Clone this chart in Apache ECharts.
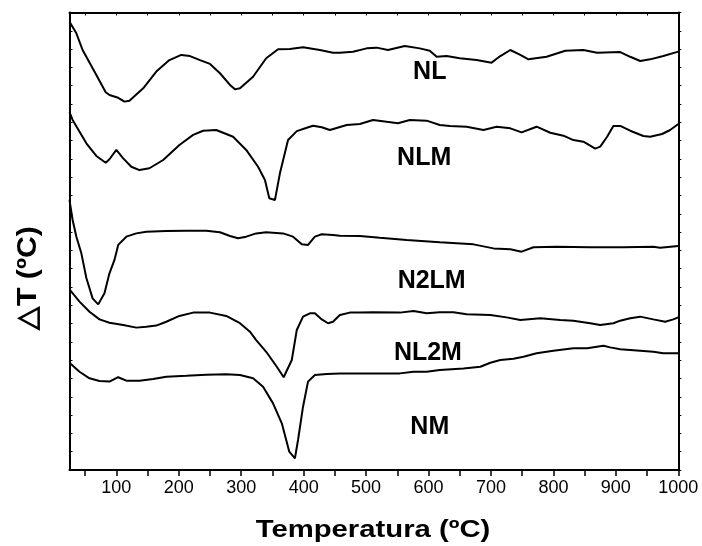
<!DOCTYPE html>
<html>
<head>
<meta charset="utf-8">
<script src="https://cdn.jsdelivr.net/npm/echarts@6/dist/echarts.min.js"></script>
<style>
  html, body { margin: 0; padding: 0; background: #fff; }
  #chart { width: 702px; height: 546px; }
</style>
</head>
<body>
<div id="chart"></div>
<script>
// DTA curves, [temperature °C, ΔT (arbitrary units, curves offset vertically)]
const NL = [[25,24.50],[36,23.86],[46,22.95],[68,21.58],[83,20.64],[89,20.49],[103,20.34],[113,20.13],[121,20.18],[143,20.86],[164,21.77],[185,22.40],[204,22.68],[218,22.62],[234,22.40],[250,22.19],[266,21.68],[282,21.04],[290,20.80],[298,20.86],[319,21.49],[340,22.50],[359,22.99],[378,23.01],[399,23.10],[426,22.95],[447,22.80],[458,22.80],[479,22.86],[501,23.04],[517,23.08],[535,22.95],[562,23.17],[586,23.04],[602,22.91],[613,22.58],[629,22.62],[650,22.50],[677,22.40],[701,22.26],[715,22.62],[731,22.95],[747,22.68],[760,22.44],[789,22.58],[819,22.91],[848,22.95],[870,22.80],[907,22.84],[923,22.58],[939,22.35],[955,22.44],[976,22.62],[1000,22.86]];

const NLM = [[25,19.55],[30,19.13],[52,17.85],[68,17.16],[83,16.79],[89,16.98],[100,17.49],[111,17.03],[124,16.57],[137,16.39],[153,16.49],[175,16.94],[201,17.76],[223,18.31],[239,18.54],[260,18.58],[287,18.21],[308,17.49],[327,16.57],[338,15.85],[345,14.85],[354,14.75],[362,16.21],[375,18.03],[389,18.52],[405,18.70],[415,18.81],[429,18.73],[442,18.58],[469,18.85],[490,18.91],[511,19.13],[533,19.03],[551,18.95],[570,19.13],[597,19.09],[618,18.85],[634,18.80],[661,18.76],[688,18.58],[709,18.76],[731,18.67],[749,18.45],[773,18.76],[795,18.43],[816,18.27],[832,18.03],[848,17.94],[867,17.56],[875,17.67],[886,18.21],[896,18.80],[907,18.80],[923,18.54],[944,18.25],[955,18.21],[974,18.36],[987,18.58],[1000,18.91]];

const N2LM = [[25,14.75],[30,13.66],[36,12.75],[44,11.84],[52,10.49],[62,9.38],[71,9.05],[81,9.66],[89,10.75],[97,11.48],[103,12.30],[116,12.75],[132,12.93],[148,13.02],[180,13.06],[212,13.08],[244,13.08],[266,12.99],[282,12.79],[295,12.66],[308,12.75],[324,12.93],[340,12.99],[367,12.93],[383,12.75],[397,12.33],[407,12.30],[418,12.75],[429,12.88],[447,12.84],[458,12.80],[490,12.79],[522,12.69],[565,12.57],[618,12.44],[672,12.33],[704,12.11],[731,12.06],[749,11.93],[768,12.17],[805,12.20],[859,12.17],[912,12.17],[960,12.20],[971,12.15],[1000,12.24]];

const NL2M = [[25,9.87],[41,9.20],[57,8.65],[73,8.23],[89,8.05],[111,7.92],[132,7.78],[148,7.83],[164,7.89],[180,8.10],[201,8.42],[223,8.60],[250,8.60],[276,8.42],[298,8.02],[314,7.56],[324,7.10],[340,6.46],[357,5.64],[368,5.07],[381,6.01],[389,7.65],[399,8.38],[410,8.56],[418,8.56],[429,8.23],[439,8.02],[447,8.10],[458,8.47],[474,8.60],[490,8.60],[511,8.62],[554,8.60],[576,8.69],[597,8.56],[618,8.62],[640,8.62],[661,8.51],[699,8.47],[725,8.34],[747,8.20],[779,8.29],[811,8.20],[832,8.16],[859,8.02],[875,7.92],[896,8.02],[907,8.16],[923,8.29],[939,8.38],[960,8.23],[979,8.10],[992,8.23],[1000,8.34]];

const NM = [[25,5.86],[41,5.37],[57,5.01],[73,4.86],[89,4.83],[103,5.07],[116,4.88],[137,4.88],[159,4.97],[180,5.10],[212,5.15],[244,5.21],[276,5.23],[298,5.19],[319,5.01],[335,4.55],[351,3.64],[365,2.55],[377,1.00],[386,0.64],[391,1.64],[399,3.46],[407,4.83],[418,5.19],[437,5.25],[458,5.28],[511,5.28],[554,5.28],[576,5.37],[597,5.37],[618,5.46],[656,5.54],[683,5.64],[699,5.86],[715,6.01],[736,6.08],[752,6.19],[773,6.38],[800,6.52],[832,6.65],[854,6.65],[880,6.79],[891,6.70],[907,6.60],[939,6.52],[960,6.46],[976,6.38],[1000,6.38]];

const curveNames = ['NL', 'NLM', 'N2LM', 'NL2M', 'NM'];
const curves = [NL, NLM, N2LM, NL2M, NM];

// Where each curve's name is written, in data coordinates
const tagAnchors = [[602, 21.72], [593, 17.05], [605, 10.33], [599, 6.39], [602, 2.37]];

// Axis ticks and labels
const xTicks = [50,100,150,200,250,300,350,400,450,500,550,600,650,700,750,800,850,900,950,1000];
const xLabels = [100,200,300,400,500,600,700,800,900,1000];

const FONT = '"Liberation Sans", Arial, sans-serif';
const chart = echarts.init(document.getElementById('chart'), null, { renderer: 'canvas' });

const axisLine = { show: true, onZero: false, lineStyle: { color: '#000', width: 2 } };

const option = {
  animation: false,
  backgroundColor: '#fff',
  grid: { left: 69.5, right: 23.7, top: 12.5, bottom: 76, containLabel: false },
  xAxis: [
    {
      type: 'value', position: 'bottom', min: 25, max: 1000,
      axisLine: axisLine,
      axisTick: { show: true, inside: false, length: 6, customValues: xTicks, lineStyle: { color: '#000', width: 1.5 } },
      axisLabel: { show: true, customValues: xLabels, formatter: v => String(v), color: '#000', fontSize: 18, fontFamily: FONT, margin: 9 },
      splitLine: { show: false }
    },
    {
      type: 'value', position: 'top', min: 25, max: 1000,
      axisLine: axisLine,
      axisTick: { show: true, inside: true, length: 3, customValues: xTicks, lineStyle: { color: '#000', width: 1 } },
      axisLabel: { show: false },
      splitLine: { show: false }
    }
  ],
  yAxis: [
    {
      type: 'value', position: 'left', min: 0, max: 25, interval: 1,
      axisLine: axisLine,
      axisTick: { show: true, inside: true, length: 3, lineStyle: { color: '#000', width: 1 } },
      axisLabel: { show: false },
      splitLine: { show: false }
    },
    {
      type: 'value', position: 'right', min: 0, max: 25, interval: 1,
      axisLine: axisLine,
      axisTick: { show: true, inside: false, length: 3, lineStyle: { color: '#000', width: 1 } },
      axisLabel: { show: false },
      splitLine: { show: false }
    }
  ],
  series: curves.map((d, i) => ({
    name: curveNames[i],
    type: 'line',
    data: d,
    showSymbol: false,
    symbol: 'none',
    smooth: false,
    clip: true,
    lineStyle: { color: '#000', width: 2 },
    silent: true
  })).concat([{
    type: 'scatter',
    data: tagAnchors.map((p, i) => ({ value: p, name: curveNames[i] })),
    symbolSize: 0,
    silent: true,
    itemStyle: { opacity: 1, color: '#000' },
    label: {
      show: true, position: 'inside', formatter: p => p.name, opacity: 1,
      color: '#000', fontSize: 25, fontWeight: 'bold', fontFamily: FONT,
      textBorderWidth: 0
    }
  }]),
  graphic: [
    {
      type: 'text', x: 373, y: 530, scaleX: 1.22, silent: true,
      style: { text: 'Temperatura (ºC)', fill: '#000', font: 'bold 24px ' + FONT, align: 'center', verticalAlign: 'middle' }
    },
    {
      type: 'text', x: 28, y: 278, rotation: Math.PI / 2, scaleX: 1.08, silent: true,
      style: { text: '△T (ºC)', fill: '#000', font: 'bold 28px ' + FONT, align: 'center', verticalAlign: 'middle' }
    }
  ]
};

chart.setOption(option);
</script>
</body>
</html>
